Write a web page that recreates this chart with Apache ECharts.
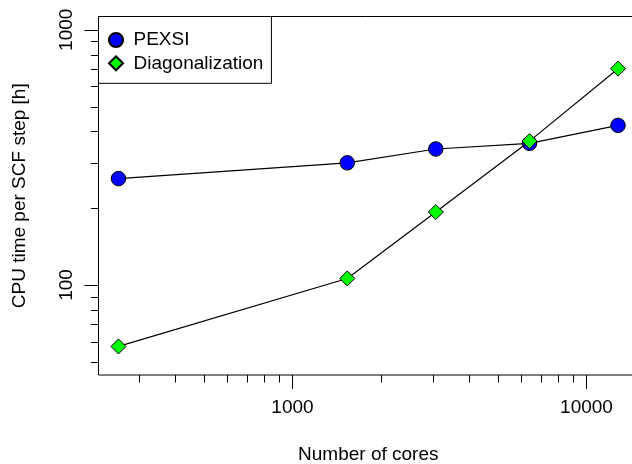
<!DOCTYPE html>
<html>
<head>
<meta charset="utf-8">
<script src="https://cdn.jsdelivr.net/npm/echarts@6/dist/echarts.min.js"></script>
<style>
html,body{margin:0;padding:0;background:#fff;}
#chart{width:632px;height:464px;}
</style>
</head>
<body>
<div id="chart"></div>
<script>
// ---- data ----
const cores = [256, 1536, 3072, 6400, 12800];
const pexsi = [261, 301, 341, 359, 422];
const diagonalization = [57.4, 106, 193, 366, 704];
const yLimits = [50, 1000];
const xMajorTicks = [1000, 10000];
const xMinorTicks = [300, 400, 500, 600, 700, 800, 900, 2000, 3000, 4000, 5000, 6000, 7000, 8000, 9000];
const yMajorTicks = [100, 1000];
const yMinorTicks = [50, 60, 70, 80, 90, 200, 300, 400, 500, 600, 700, 800, 900];

const FONT = '"Liberation Sans", Arial, Helvetica, sans-serif';

// R-style 4% range extension on log scale
function logRange(lo, hi) {
  const a = Math.log10(lo), b = Math.log10(hi), p = 0.04 * (b - a);
  return [Math.pow(10, a - p), Math.pow(10, b + p)];
}
const xr = logRange(Math.min(...cores), Math.max(...cores));
const yr = logRange(yLimits[0], yLimits[1]);

function isPow10(v) {
  const l = Math.log10(v);
  return Math.abs(l - Math.round(l)) < 1e-6;
}

const xTickData = xMajorTicks.map(v => [v, 100, 1]).concat(xMinorTicks.map(v => [v, 100, 0]));
const yTickData = yMajorTicks.map(v => [1000, v, 1]).concat(yMinorTicks.map(v => [1000, v, 0]));

const chart = echarts.init(document.getElementById('chart'), null, {renderer: 'canvas'});
chart.setOption({
  animation: false,
  backgroundColor: '#fff',
  textStyle: {fontFamily: FONT},
  grid: {
    left: 98.5, top: 16.5, right: -6, bottom: 89,
    outerBoundsMode: 'none', containLabel: false,
    show: true, borderColor: '#000', borderWidth: 1, backgroundColor: 'transparent'
  },
  legend: {
    left: 98.5, top: 16.5,
    orient: 'vertical',
    backgroundColor: '#fff',
    borderColor: '#000', borderWidth: 1, borderRadius: 0,
    padding: [14, 8, 10.5, 9.5],
    itemGap: 4.3,
    itemWidth: 14, itemHeight: 14,
    textStyle: {fontSize: 19, color: '#000', fontFamily: FONT, lineHeight: 19, padding: [0, 0, 0, 5.5]},
    data: [{name: 'PEXSI', icon: 'circle'}, {name: 'Diagonalization', icon: 'diamond'}]
  },
  xAxis: {
    type: 'log', logBase: 10, min: xr[0], max: xr[1],
    name: 'Number of cores', nameLocation: 'middle', nameGap: 70,
    nameTextStyle: {fontSize: 19, color: '#000', fontFamily: FONT},
    axisLine: {show: false}, axisTick: {show: false}, splitLine: {show: false},
    axisLabel: {
      fontSize: 19, color: '#000', fontFamily: FONT, margin: 23,
      formatter: v => isPow10(v) ? String(Math.round(v)) : ''
    }
  },
  yAxis: {
    type: 'log', logBase: 10, min: yr[0], max: yr[1],
    name: 'CPU time per SCF step [h]', nameLocation: 'middle', nameGap: 69,
    nameTextStyle: {fontSize: 19, color: '#000', fontFamily: FONT},
    axisLine: {show: false}, axisTick: {show: false}, splitLine: {show: false},
    axisLabel: {
      fontSize: 19, color: '#000', fontFamily: FONT, margin: 22, rotate: 90,
      formatter: v => isPow10(v) ? String(Math.round(v)) : ''
    }
  },
  series: [
    {
      type: 'custom', silent: true, clip: false, z: 1,
      data: xTickData,
      renderItem: function (params, api) {
        const cs = params.coordSys;
        const px = Math.round(api.coord([api.value(0), api.value(1)])[0]) + 0.5;
        const y0 = cs.y + cs.height;
        const len = api.value(2) ? 14 : 7.5;
        return {type: 'line', shape: {x1: px, y1: y0, x2: px, y2: y0 + len}, style: {stroke: '#000', lineWidth: 1}};
      }
    },
    {
      type: 'custom', silent: true, clip: false, z: 1,
      data: yTickData,
      renderItem: function (params, api) {
        const cs = params.coordSys;
        const py = Math.round(api.coord([api.value(0), api.value(1)])[1]) + 0.5;
        const x0 = cs.x;
        const len = api.value(2) ? 14 : 7.5;
        return {type: 'line', shape: {x1: x0, y1: py, x2: x0 - len, y2: py}, style: {stroke: '#000', lineWidth: 1}};
      }
    },
    {
      name: 'PEXSI', type: 'line', z: 2,
      data: cores.map((c, i) => [c, pexsi[i]]),
      symbol: 'circle', symbolSize: 14.5,
      showAllSymbol: true,
      lineStyle: {color: '#000', width: 1.2},
      itemStyle: {color: '#0000ff', borderColor: '#000', borderWidth: 1},
      emphasis: {disabled: true}
    },
    {
      name: 'Diagonalization', type: 'line', z: 3,
      data: cores.map((c, i) => [c, diagonalization[i]]),
      symbol: 'diamond', symbolSize: 15,
      showAllSymbol: true,
      lineStyle: {color: '#000', width: 1.2},
      itemStyle: {color: '#00ff00', borderColor: '#000', borderWidth: 1},
      emphasis: {disabled: true}
    }
  ]
});
</script>
</body>
</html>
